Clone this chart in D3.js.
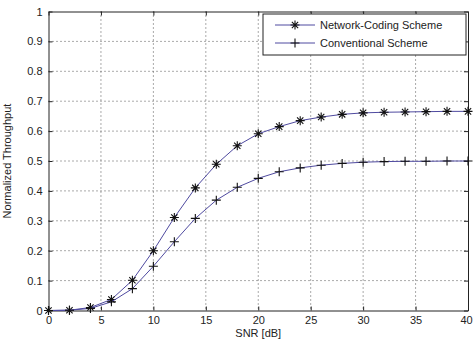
<!DOCTYPE html>
<html>
<head>
<meta charset="utf-8">
<script src="https://cdn.jsdelivr.net/npm/d3@7"></script>
<style>
  body { margin: 0; background: #fff; }
  text { font-family: "Liberation Sans", Arial, sans-serif; }
</style>
</head>
<body>
<div id="chart"></div>
<script>
var snr = [0, 2, 4, 6, 8, 10, 12, 14, 16, 18, 20, 22, 24, 26, 28, 30, 32, 34, 36, 38, 40]
var networkCoding = [0, 0.001, 0.01, 0.037, 0.101, 0.2, 0.311, 0.41, 0.489, 0.551, 0.591, 0.615, 0.635, 0.647, 0.656, 0.661, 0.663, 0.664, 0.665, 0.666, 0.666]
var conventional = [0, 0.001, 0.007, 0.029, 0.073, 0.148, 0.23, 0.308, 0.369, 0.412, 0.442, 0.464, 0.477, 0.486, 0.492, 0.496, 0.498, 0.499, 0.499, 0.5, 0.5]
var xTicks = [0, 5, 10, 15, 20, 25, 30, 35, 40]
var yTicks = [0, 0.1, 0.2, 0.3, 0.4, 0.5, 0.6, 0.7, 0.8, 0.9, 1]
var legendLabels = ['Network-Coding Scheme', 'Conventional Scheme']

var width = 473, height = 340,
    margin = {left: 48.5, right: 5, top: 11.5, bottom: 29.5}
var w = width - margin.left - margin.right,
    h = height - margin.top - margin.bottom

var lineColor = '#4f4aa0'

var svg = d3.select('#chart')
  .append('svg')
    .attr('width', width)
    .attr('height', height)
  .append('g')
    .attr('transform', 'translate(' + margin.left + ',' + margin.top + ')')

var x = d3.scaleLinear().domain([0, 40]).range([0, w])
var y = d3.scaleLinear().domain([0, 1]).range([h, 0])

// grid
svg.append('g').selectAll('line')
    .data(xTicks.slice(1, -1))
  .enter().append('line')
    .attr('x1', d => x(d)).attr('x2', d => x(d))
    .attr('y1', 0).attr('y2', h)
    .attr('stroke', '#555').attr('stroke-dasharray', '1,3')
svg.append('g').selectAll('line')
    .data(yTicks.slice(1, -1))
  .enter().append('line')
    .attr('y1', d => y(d)).attr('y2', d => y(d))
    .attr('x1', 0).attr('x2', w)
    .attr('stroke', '#555').attr('stroke-dasharray', '1,3')

// axes, matlab style: ticks inside on all four sides
function style(g){
  g.select('.domain').attr('stroke', '#222')
  g.selectAll('.tick line').attr('stroke', '#222')
  g.selectAll('.tick text').attr('fill', '#222').style('font-size', '11px')
}
svg.append('g').attr('transform', 'translate(0,' + h + ')')
    .call(d3.axisBottom(x).tickValues(xTicks).tickSize(-4).tickPadding(6).tickSizeOuter(0))
    .call(style)
    .call(g => g.selectAll('.tick text').filter(d => d === 40).attr('dx', -2))
svg.append('g')
    .call(d3.axisLeft(y).tickValues(yTicks).tickSize(-4).tickPadding(6).tickSizeOuter(0).tickFormat(d3.format('')))
    .call(style)
svg.append('g')
    .call(d3.axisTop(x).tickValues(xTicks).tickSize(-4).tickSizeOuter(0).tickFormat(''))
    .call(style)
svg.append('g').attr('transform', 'translate(' + w + ',0)')
    .call(d3.axisRight(y).tickValues(yTicks).tickSize(-4).tickSizeOuter(0).tickFormat(''))
    .call(style)

svg.append('text')
    .attr('x', x(20)).attr('y', h + 26)
    .attr('text-anchor', 'middle')
    .style('font-size', '11px').attr('fill', '#222')
    .text('SNR [dB]')
svg.append('text')
    .attr('transform', 'translate(' + (-38) + ',' + y(0.5) + ') rotate(-90)')
    .attr('text-anchor', 'middle')
    .style('font-size', '11px').attr('fill', '#222')
    .text('Normalized Throughput')

var line = d3.line().x((d, i) => x(snr[i])).y(d => y(d))

function star(g, s){
  g.append('path')
    .attr('d', 'M' + -s + ',0L' + s + ',0M0,' + -s + 'L0,' + s +
               'M' + -s*0.7 + ',' + -s*0.7 + 'L' + s*0.7 + ',' + s*0.7 +
               'M' + -s*0.7 + ',' + s*0.7 + 'L' + s*0.7 + ',' + -s*0.7)
}
function plus(g, s){
  g.append('path')
    .attr('d', 'M' + -s + ',0L' + s + ',0M0,' + -s + 'L0,' + s)
}

var series = [
  {values: networkCoding, marker: star},
  {values: conventional, marker: plus}
]

series.forEach(function(s){
  svg.append('path')
      .attr('d', line(s.values))
      .attr('fill', 'none')
      .attr('stroke', lineColor)
      .attr('stroke-width', 1)
  svg.append('g').selectAll('g')
      .data(s.values)
    .enter().append('g')
      .attr('transform', (d, i) => 'translate(' + x(snr[i]) + ',' + y(d) + ')')
      .attr('stroke', '#111').attr('stroke-width', 1.1)
      .each(function(){ s.marker(d3.select(this), 4.5) })
})

// legend
var lg = svg.append('g').attr('transform', 'translate(' + (263 - margin.left) + ',' + (14 - margin.top) + ')')
lg.append('rect')
    .attr('width', 203).attr('height', 41)
    .attr('fill', '#fff').attr('stroke', '#222')
legendLabels.forEach(function(label, i){
  var yy = 11 + i * 18
  lg.append('line')
      .attr('x1', 12).attr('x2', 52).attr('y1', yy).attr('y2', yy)
      .attr('stroke', lineColor)
  var m = lg.append('g').attr('transform', 'translate(32,' + yy + ')')
      .attr('stroke', '#111').attr('stroke-width', 1.1)
  series[i].marker(m, 4.5)
  lg.append('text')
      .attr('x', 57).attr('y', yy + 4)
      .style('font-size', '11px').attr('fill', '#222')
      .text(label)
})
</script>
</body>
</html>
